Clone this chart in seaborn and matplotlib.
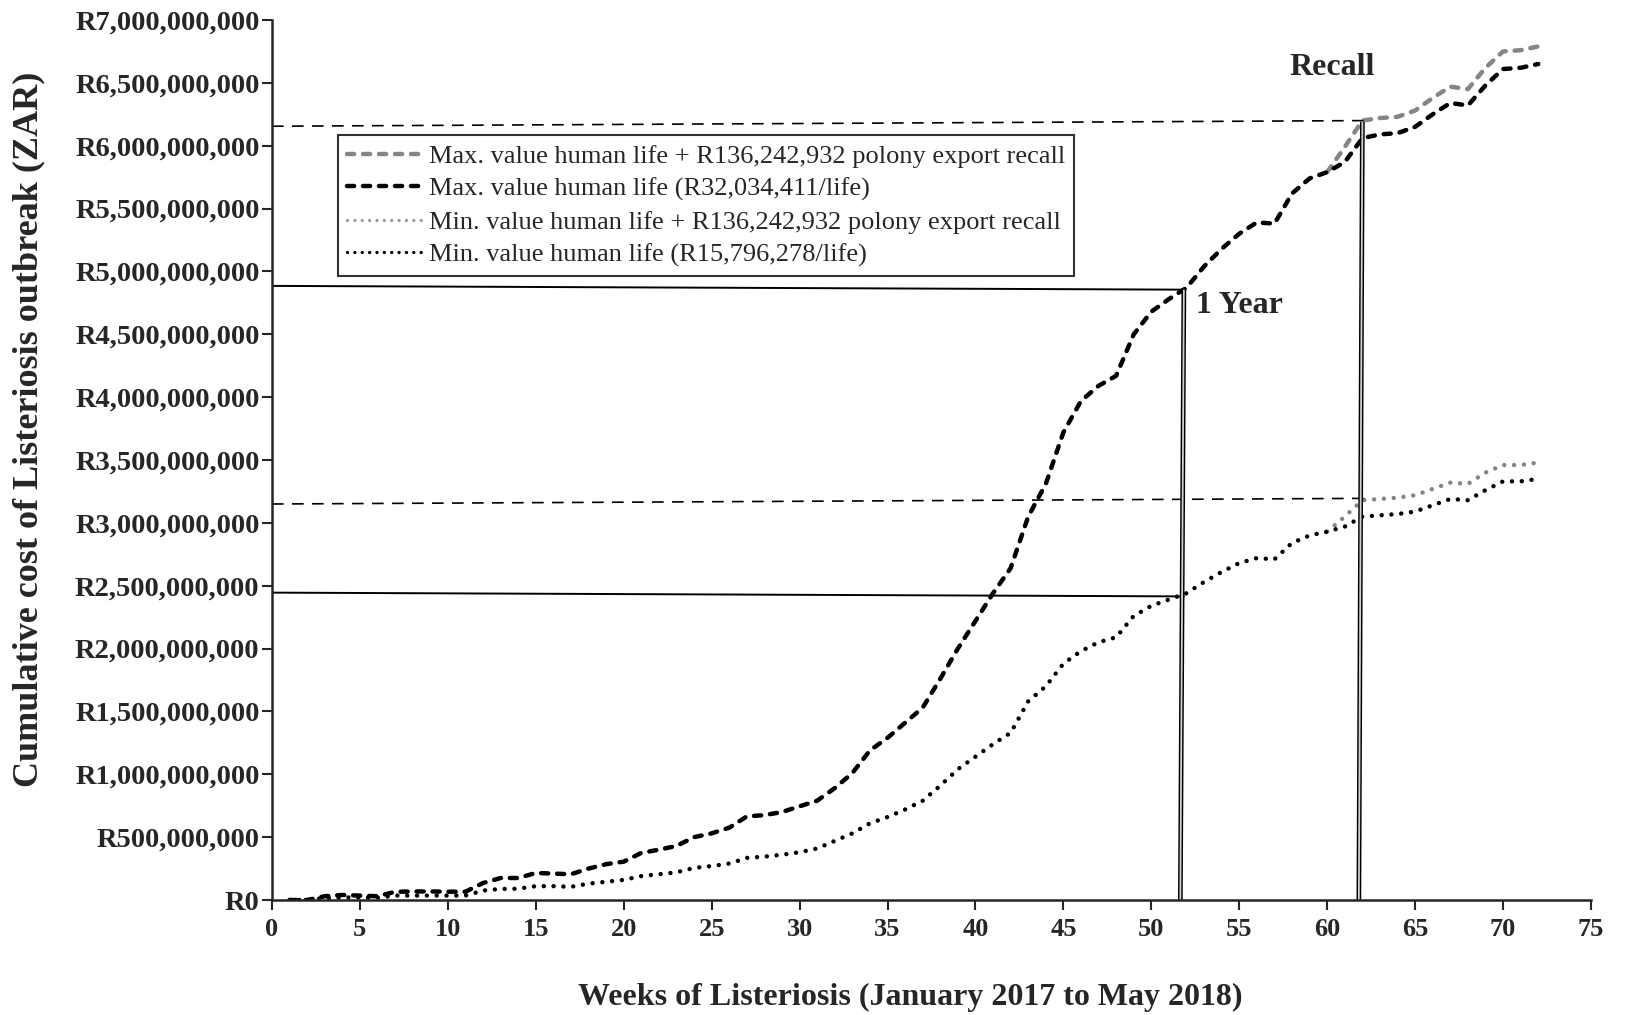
import matplotlib
matplotlib.use("Agg")
import matplotlib.pyplot as plt
import seaborn as sns
import numpy as np
import pandas as pd
from matplotlib.lines import Line2D
from matplotlib.ticker import FuncFormatter, MultipleLocator

# ---------------- data (billions of Rand) ----------------
weeks = list(range(1, 73))
max_life = [0.00, 0.00, 0.03, 0.04, 0.035, 0.03, 0.065, 0.068, 0.068, 0.066,
            0.066, 0.135, 0.175, 0.175, 0.215, 0.21, 0.205, 0.25, 0.285, 0.305,
            0.375, 0.40, 0.43, 0.50, 0.53, 0.575, 0.665, 0.675, 0.70, 0.745,
            0.79, 0.89, 1.01, 1.19, 1.29, 1.41, 1.53, 1.76, 2.00, 2.22,
            2.44, 2.64, 3.05, 3.31, 3.72, 3.97, 4.09, 4.17, 4.50, 4.68,
            4.78, 4.87, 5.04, 5.18, 5.30, 5.39, 5.38, 5.62, 5.74, 5.79,
            5.87, 6.06, 6.09, 6.10, 6.15, 6.25, 6.34, 6.32, 6.48, 6.61,
            6.62, 6.65]
min_life = [0.00, 0.00, 0.015, 0.02, 0.02, 0.018, 0.035, 0.035, 0.035, 0.035,
            0.035, 0.075, 0.088, 0.09, 0.11, 0.11, 0.105, 0.13, 0.145, 0.16,
            0.19, 0.205, 0.22, 0.255, 0.27, 0.29, 0.335, 0.345, 0.36, 0.38,
            0.41, 0.47, 0.53, 0.61, 0.66, 0.72, 0.79, 0.91, 1.04, 1.14,
            1.24, 1.33, 1.58, 1.70, 1.88, 1.98, 2.05, 2.09, 2.26, 2.34,
            2.39, 2.44, 2.53, 2.61, 2.68, 2.72, 2.71, 2.84, 2.90, 2.93,
            2.97, 3.05, 3.06, 3.07, 3.09, 3.14, 3.19, 3.18, 3.26, 3.33,
            3.33, 3.35]
recall_weeks = list(range(60, 73))
max_recall = [5.79, 5.99, 6.20, 6.22, 6.23, 6.28, 6.38, 6.47, 6.45, 6.62, 6.75, 6.76, 6.79]
min_recall = [2.93, 3.05, 3.18, 3.19, 3.20, 3.22, 3.27, 3.32, 3.31, 3.40, 3.46, 3.46, 3.48]

labels = ["Max. value human life + R136,242,932 polony export recall",
          "Max. value human life (R32,034,411/life)",
          "Min. value human life + R136,242,932 polony export recall",
          "Min. value human life (R15,796,278/life)"]

# guide-line annotations (week, billions)
one_year_week = [51.65, 51.85]
one_year_max = [4.885, 4.855]
one_year_min = [2.445, 2.415]
recall_week = [61.8, 62.0]
recall_top = 6.19
recall_max_ref = [6.155, 6.20]
recall_min_ref = [3.15, 3.195]
recall_ref_end = 62.4

B = 1e9
df_main = pd.DataFrame({"week": weeks, "max": np.array(max_life) * B, "min": np.array(min_life) * B})
df_rec = pd.DataFrame({"week": recall_weeks, "max": np.array(max_recall) * B, "min": np.array(min_recall) * B})

# ---------------- style ----------------
sns.set_style("ticks")
plt.rcParams["font.family"] = ["Liberation Serif", "DejaVu Serif"]
plt.rcParams["axes.linewidth"] = 1.5

fig = plt.figure(figsize=(16.33, 10.15), dpi=100)
ax = fig.add_axes([272 / 1633, 115 / 1015, 1319 / 1633, 880 / 1015])

GRAY = "#858585"
dash_ls = (0, (1.6, 2.0))
dot_ls = (0, (0.01, 2.2))
LW = 3.2

sns.lineplot(data=df_rec, x="week", y="max", ax=ax, color=GRAY, linestyle=dash_ls,
             dash_capstyle="round", linewidth=LW)
sns.lineplot(data=df_rec, x="week", y="min", ax=ax, color=GRAY, linestyle=dot_ls,
             dash_capstyle="round", linewidth=LW)
sns.lineplot(data=df_main, x="week", y="max", ax=ax, color="black", linestyle=dash_ls,
             dash_capstyle="round", linewidth=LW)
sns.lineplot(data=df_main, x="week", y="min", ax=ax, color="black", linestyle=dot_ls,
             dash_capstyle="round", linewidth=LW)

# guide lines
ax.plot([0, one_year_week[1]], [one_year_max[0] * B, one_year_max[1] * B], color="black", lw=1.4)
ax.plot([0, one_year_week[1]], [one_year_min[0] * B, one_year_min[1] * B], color="black", lw=1.4)
ax.plot([0, recall_ref_end], [recall_max_ref[0] * B, recall_max_ref[1] * B], color="black", lw=1.2,
        linestyle=(0, (7, 5)))
ax.plot([0, recall_ref_end], [recall_min_ref[0] * B, recall_min_ref[1] * B], color="black", lw=1.2,
        linestyle=(0, (7, 5)))
for xs, top in [(one_year_week, one_year_max[1]), (recall_week, recall_top)]:
    ax.plot(xs, [0, top * B], color="black", lw=3.4, solid_capstyle="butt")
    ax.plot(xs, [0, top * B], color="#d0d0d0", lw=1.3, solid_capstyle="butt")

ax.text(55.0, 4.73 * B, "1 Year", fontsize=23, fontweight="bold", ha="center", va="center")
ax.text(60.3, 6.62 * B, "Recall", fontsize=23, fontweight="bold", ha="center", va="center")

# axes
ax.set_xlim(0, 75)
ax.set_ylim(0, 7e9)
ax.xaxis.set_major_locator(MultipleLocator(5))
ax.yaxis.set_major_locator(MultipleLocator(5e8))
ax.yaxis.set_major_formatter(FuncFormatter(lambda v, p: "R{:,.0f}".format(v)))
ax.tick_params(axis="both", direction="out", length=7, width=1.5)
ax.tick_params(axis="y", labelsize=20.5, pad=2)
ax.tick_params(axis="x", labelsize=19, pad=6)
for lab in ax.get_xticklabels() + ax.get_yticklabels():
    lab.set_fontweight("bold")
sns.despine(ax=ax)
ax.spines["left"].set_linewidth(1.8)
ax.spines["bottom"].set_linewidth(1.8)

ax.set_xlabel("Weeks of Listeriosis (January 2017 to May 2018)", fontsize=23, fontweight="bold")
ax.set_ylabel("Cumulative cost of Listeriosis outbreak (ZAR)", fontsize=26, fontweight="bold")
ax.xaxis.set_label_coords(0.484, -0.094)
ax.yaxis.set_label_coords(-0.172, 0.535)

handles = [
    Line2D([], [], color=GRAY, linestyle=dash_ls, dash_capstyle="round", lw=LW),
    Line2D([], [], color="black", linestyle=dash_ls, dash_capstyle="round", lw=LW),
    Line2D([], [], color="#9a9a9a", linestyle=dot_ls, dash_capstyle="round", lw=2.4),
    Line2D([], [], color="black", linestyle=dot_ls, dash_capstyle="round", lw=2.4),
]
leg = ax.legend(handles, labels, loc="upper left", bbox_to_anchor=(0.05, 0.869), borderaxespad=0,
                fontsize=19, frameon=True, fancybox=False, edgecolor="black", handlelength=2.95,
                handletextpad=0.15, labelspacing=0.35, borderpad=0.35)
leg.get_frame().set_linewidth(1.5)

fig.savefig("out.png", dpi=100)
